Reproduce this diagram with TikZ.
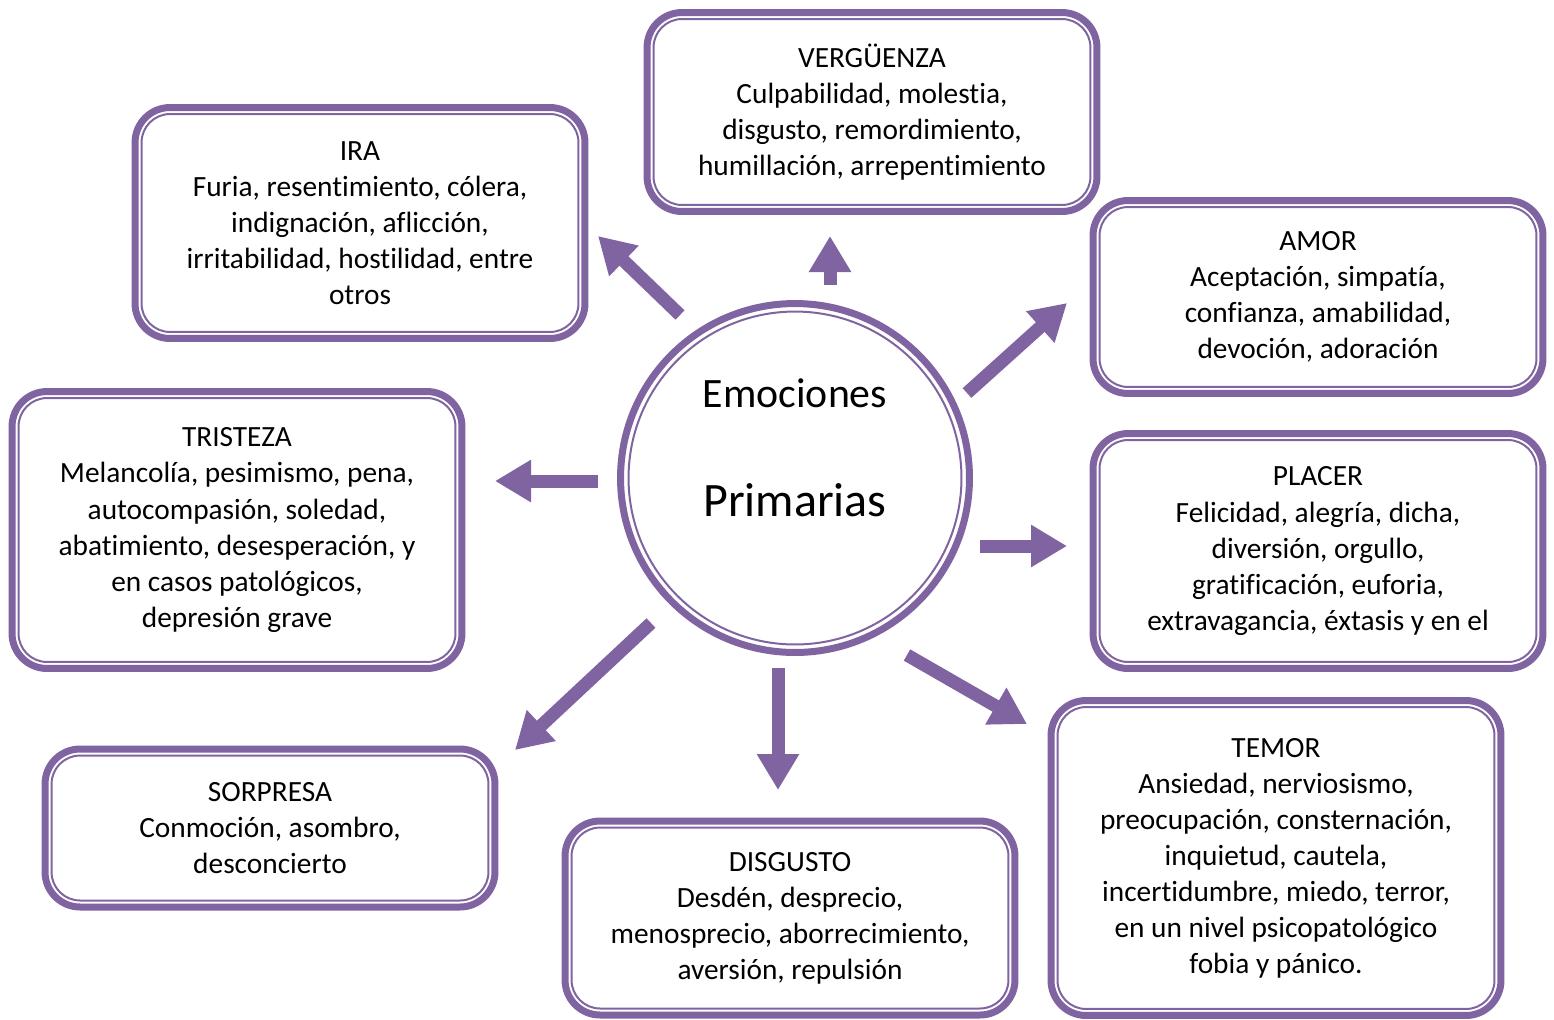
\documentclass[tikz,border=0pt]{standalone}
\usepackage{fontspec}
\setmainfont{Carlito}[Ligatures=NoCommon]
\usepackage{xcolor}
\usepackage{tikz}
\usetikzlibrary{arrows.meta}
\definecolor{morado}{HTML}{8064A2}
\tikzset{
    caja/.style={rectangle, rounded corners=0.7cm, draw=morado, line width=0.14cm, fill=white, minimum width=9cm, align=center, font=\fontsize{16.7}{20.5}\selectfont},
    interior/.style={draw=morado, line width=0.04cm, rounded corners=0.57cm},
    circulo/.style={circle, draw=morado, line width=0.14cm, minimum size=6.98cm},
    flecha/.style={-{Triangle[width=0.8cm, length=0.72cm]}, draw=morado, line width=0.26cm}
}

\begin{document}
\begin{tikzpicture}[x=0.02cm, y=-0.02cm]
    \useasboundingbox (0,0) rectangle (1554,1019);

    % centro
    \node (centro) [circulo] at (795,478) {};
    \draw[interior] (centro) circle[radius=3.33cm];
    \node (emociones) at (795,393) {\fontsize{23.8}{28}\selectfont Emociones};
    \node (primarias) at (795,500) {\fontsize{27.3}{32}\selectfont Primarias};

    % cajas
    \node (ira) [caja, minimum height=4.62cm] at (360,223) {IRA\\Furia, resentimiento, cólera,\\indignación, aflicción,\\irritabilidad, hostilidad, entre\\otros};
    \node (verguenza) [caja, minimum height=3.98cm] at (872,112) {VERGÜENZA\\Culpabilidad, molestia,\\disgusto, remordimiento,\\humillación, arrepentimiento};
    \node (amor) [caja, minimum height=3.86cm] at (1318,297) {AMOR\\Aceptación, simpatía,\\confianza, amabilidad,\\devoción, adoración};
    \node (tristeza) [caja, minimum height=5.54cm] at (237,530) {TRISTEZA\\Melancolía, pesimismo, pena,\\autocompasión, soledad,\\abatimiento, desesperación, y\\en casos patológicos,\\depresión grave};
    \node (placer) [caja, minimum height=4.7cm] at (1318,551) {PLACER\\Felicidad, alegría, dicha,\\diversión, orgullo,\\gratificación, euforia,\\extravagancia, éxtasis y en el};
    \node (sorpresa) [caja, minimum height=3.16cm] at (270,828) {SORPRESA\\Conmoción, asombro,\\desconcierto};
    \node (disgusto) [caja, minimum height=3.88cm] at (790,918) {DISGUSTO\\Desdén, desprecio,\\menosprecio, aborrecimiento,\\aversión, repulsión};
    \node (temor) [caja, minimum height=6.3cm] at (1276,858) {TEMOR\\Ansiedad, nerviosismo,\\preocupación, consternación,\\inquietud, cautela,\\incertidumbre, miedo, terror,\\en un nivel psicopatológico\\fobia y pánico.};

    \foreach \n in {ira,verguenza,amor,tristeza,placer,sorpresa,disgusto,temor}
        \draw[interior] ([shift={(0.2cm,-0.2cm)}]\n.north west) rectangle ([shift={(-0.2cm,0.2cm)}]\n.south east);

    % flechas
    \coordinate (de-ira) at (680,315);        \coordinate (a-ira) at (598,236);
    \coordinate (de-verguenza) at (830,285);  \coordinate (a-verguenza) at (830,236);
    \coordinate (de-amor) at (967,393);       \coordinate (a-amor) at (1067,303);
    \coordinate (de-tristeza) at (598,481);   \coordinate (a-tristeza) at (495,481);
    \coordinate (de-placer) at (980,546);     \coordinate (a-placer) at (1067,546);
    \coordinate (de-sorpresa) at (651,623);   \coordinate (a-sorpresa) at (515,750);
    \coordinate (de-disgusto) at (778,668);   \coordinate (a-disgusto) at (778,790);
    \coordinate (de-temor) at (907,655);      \coordinate (a-temor) at (1027,724);

    \foreach \n in {ira,verguenza,amor,tristeza,placer,sorpresa,disgusto,temor}
        \draw[flecha] (de-\n) -- (a-\n);
\end{tikzpicture}
\end{document}
